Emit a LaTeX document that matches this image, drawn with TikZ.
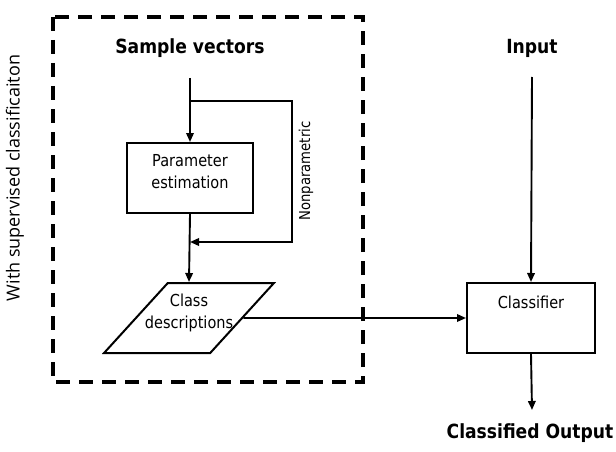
\documentclass[tikz,border=0pt]{standalone}
\usepackage{fontspec}
\setmainfont{DejaVu Sans}[FakeStretch=0.88]
\newfontfamily\sidefont{Open Sans}
\usetikzlibrary{arrows.meta,shapes.geometric,positioning}

\tikzset{
  group/.style={line width=4pt, dash pattern=on 14pt off 9pt},
  box/.style={draw, line width=2pt, minimum width=126pt, minimum height=70pt, inner sep=0pt},
  slantbox/.style={draw, line width=2pt, trapezium, trapezium left angle=63.4,
    trapezium right angle=116.6, trapezium stretches=true,
    minimum width=170pt, minimum height=70pt, inner sep=3pt},
  inlbl/.style={anchor=north, align=center, inner sep=0pt, yshift=-12pt,
    font=\fontsize{16.5}{22}\selectfont},
  head/.style={font=\fontsize{19.5}{24}\selectfont\bfseries, inner sep=0pt},
  note/.style={font=\fontsize{15}{18}\selectfont, inner sep=0pt},
  side/.style={font=\sidefont\fontsize{18}{22}\selectfont, inner sep=0pt},
  link/.style={line width=1.9pt},
  flow/.style={link, -{Triangle[length=9pt,width=7.5pt]}},
}

\begin{document}
\begin{tikzpicture}[x=1pt, y=-1pt, line join=miter]

  %% ════ 虚线框 ════
  \draw[group] (53,17) rectangle (363,382);

  %% ════ 节点 ════
  \node[head] (samp) at (190,48) {Sample vectors};
  \node[box, label={[inlbl]north:Parameter\\estimation}] (param) at (190,178) {};
  \node[slantbox, label={[inlbl]north:Class\\descriptions}] (cls) at (189,318) {\strut};
  \node[head] (inp) at (532,48) {Input};
  \node[box, minimum width=128pt, label={[inlbl, yshift=-2pt]north:Classifier}] (clsf) at (531,318) {};
  \node[head] (outp) at (530,433) {Classified Output};
  \node[note, rotate=90] (nonpar) at (306,171) {Nonparametric};
  \node[side, rotate=90] (sup) at (15,178) {With supervised classificaiton};

  %% 折线的拐点
  \coordinate (stem)    at (190,78);
  \coordinate (split)   at (190,101);
  \coordinate (bendtop) at (292,101);
  \coordinate (bendbot) at (292,242);
  \coordinate (join)    at (190,242);
  \coordinate (inStem)  at (532,77);
  \coordinate (outTip)  at (532,410);

  %% ════ 连线 ════
  \draw[link] (stem) -- (split);
  \draw[flow] (split) -- (param.north);
  \draw[flow] (split) -- (bendtop) -- (bendbot) -- (join);
  \draw[flow] (param.south) -- (cls.north);
  \draw[flow] (cls.east) -- (clsf.west);
  \draw[flow] (inStem) -- (clsf.north);
  \draw[flow] (clsf.south) -- (outTip);

  % 钉死画布
  \pgfresetboundingbox
  \path[use as bounding box] (0,0) rectangle (616,452);
\end{tikzpicture}
\end{document}
